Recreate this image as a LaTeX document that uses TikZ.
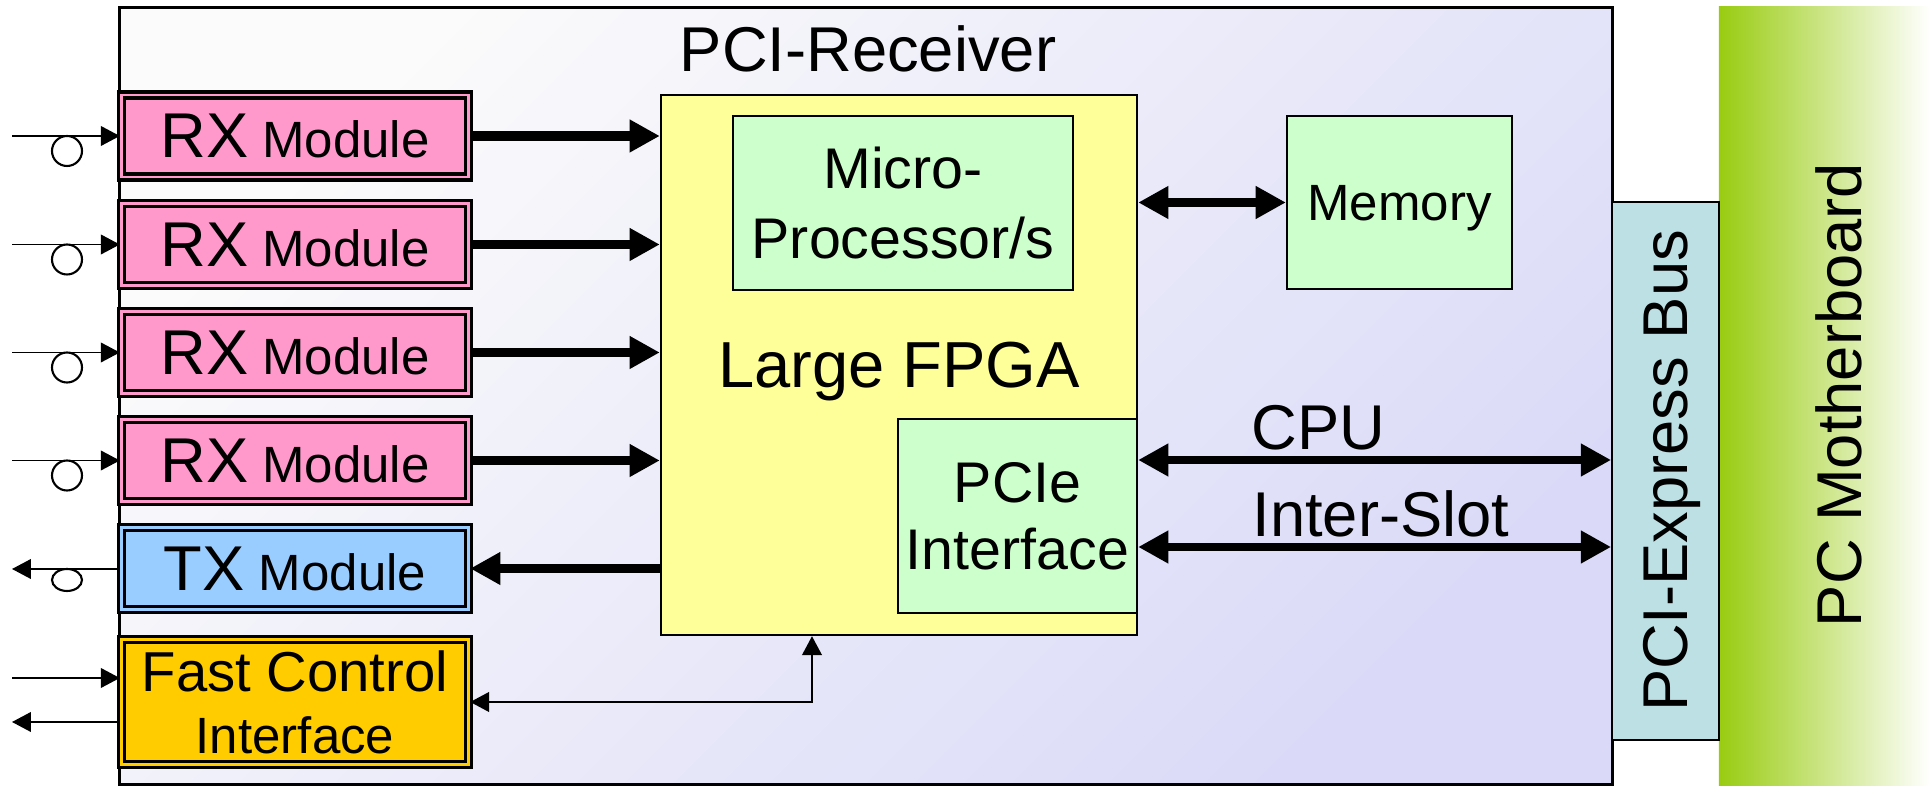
\documentclass[tikz,border=0pt]{standalone}
\usepackage{fontspec}
\setmainfont{Liberation Sans}
\usetikzlibrary{arrows.meta}

\definecolor{rxpink}{HTML}{FF99CC}
\definecolor{txblue}{HTML}{99CCFF}
\definecolor{fcigold}{HTML}{FFCC00}
\definecolor{fpgayellow}{HTML}{FFFF99}
\definecolor{blockgreen}{HTML}{CCFFCC}
\definecolor{busteal}{HTML}{BCE0E4}
\definecolor{rcvtop}{HTML}{FBFBFB}
\definecolor{rcvbottom}{HTML}{DADAF8}
\definecolor{mbgreen}{HTML}{99CC11}

\newcommand{\lbltxt}{\fontsize{18}{21}\selectfont}
\newcommand{\boxtxt}{\fontsize{14.5}{17.6}\selectfont}

\tikzset{
  receiver/.style={draw, line width=0.9pt, top color=rcvtop, bottom color=rcvbottom,
    shading angle=45, minimum width=14.915cm, minimum height=7.76cm, inner sep=0pt},
  mboard/.style={left color=mbgreen, right color=white, minimum width=2.11cm,
    minimum height=7.8cm, inner sep=0pt},
  bus/.style={draw, line width=0.5pt, fill=busteal, rotate=90, font=\lbltxt,
    minimum width=5.375cm, minimum height=1.07cm, inner sep=0pt, text depth=0pt},
  module/.style={draw, line width=0.9pt, double distance=0.8pt, inner sep=0pt,
    minimum width=3.47cm, minimum height=0.82cm, font=\boxtxt},
  rxmod/.style={module, fill=rxpink, double=rxpink},
  txmod/.style={module, fill=txblue, double=txblue},
  fcimod/.style={module, fill=fcigold, double=fcigold, minimum height=1.25cm, align=center},
  fpga/.style={draw, line width=0.6pt, fill=fpgayellow, minimum width=4.76cm,
    minimum height=5.4cm, inner sep=0pt, text depth=0pt, font=\fontsize{18.5}{21}\selectfont},
  block/.style={draw, line width=0.6pt, fill=blockgreen, inner sep=0pt, align=center},
  datalink/.style={line width=2.8pt, >={Triangle[length=8.6pt,width=8.8pt]}, ->},
  hostlink/.style={line width=2.4pt, >={Triangle[length=8.6pt,width=8.8pt]}, <->},
  wire/.style={line width=0.5pt, >={Triangle[length=5.4pt,width=5.6pt]}, ->},
  ctrllink/.style={line width=0.6pt, >={Triangle[length=5.4pt,width=5.6pt]}, <->},
}

\begin{document}
\begin{tikzpicture}[x=0.01cm, y=-0.01cm]
  \path[use as bounding box, fill=white] (0,0) rectangle (1930,786);
  \node[receiver] (rcv) at (866,396) {};
  \node[font=\lbltxt, anchor=base] (rcvtitle) at (868,72) {PCI-Receiver};
  \node[mboard] (mb) at (1824.5,397) {};
  \node[font=\lbltxt, rotate=90] (mbtitle) at (1839,395) {PC Motherboard};
  \node[bus] (bus) at (1665.5,471) {PCI-Express Bus};

  \node[rxmod] (rx1) at (295,136) {{\lbltxt RX} Module};
  \node[rxmod] (rx2) at (295,244.5) {{\lbltxt RX} Module};
  \node[rxmod] (rx3) at (295,352.5) {{\lbltxt RX} Module};
  \node[rxmod] (rx4) at (295,460.5) {{\lbltxt RX} Module};
  \node[txmod] (tx) at (295,568.5) {{\lbltxt TX} Module};
  \node[fcimod] (fci) at (295,702) {{\fontsize{16}{17.6}\selectfont Fast Control}\\Interface};

  \node[fpga] (fpga) at (899,365) {Large FPGA};
  \node[block, minimum width=3.4cm, minimum height=1.74cm,
    font=\fontsize{16.3}{20}\selectfont] (micro) at (903,203) {Micro-\\Processor/s};
  \node[block, minimum width=2.25cm, minimum height=1.73cm, text depth=0pt,
    font=\boxtxt] (mem) at (1399.5,202.5) {Memory};
  \node[block, minimum width=2.39cm, minimum height=1.94cm,
    font=\fontsize{16.3}{19}\selectfont] (pcie) at (1017.5,516) {PCIe\\Interface};

  \node[font=\lbltxt, anchor=base west] (cpulabel) at (1239,450) {CPU};
  \node[font=\lbltxt, anchor=base west] (slotlabel) at (1240,537) {Inter-Slot};

  \coordinate (in1) at (12,136);
  \coordinate (in2) at (12,244.5);
  \coordinate (in3) at (12,352.5);
  \coordinate (in4) at (12,460.5);
  \coordinate (out5) at (12,569);
  \coordinate (fciin) at (12,678);
  \coordinate (fciout) at (12,722);
  \coordinate (cpu) at (0,460);
  \coordinate (slot) at (0,547);
  \coordinate (fcibend) at (812,700);

  \begin{scope}[datalink]
    \draw (rx1) to (rx1 -| fpga.west);
    \draw (rx2) to (rx2 -| fpga.west);
    \draw (rx3) to (rx3 -| fpga.west);
    \draw (rx4) to (rx4 -| fpga.west);
    \draw (tx -| fpga.west) to (tx);
  \end{scope}
  \begin{scope}[hostlink]
    \draw (fpga.east |- mem) to (mem);
    \draw (pcie.east |- cpu) to (bus.north |- cpu);
    \draw (pcie.east |- slot) to (bus.north |- slot);
  \end{scope}
  \begin{scope}[wire]
    \draw (in1) to (in1 -| rx1.west);
    \draw (in2) to (in2 -| rx2.west);
    \draw (in3) to (in3 -| rx3.west);
    \draw (in4) to (in4 -| rx4.west);
    \draw (out5 -| tx.west) to (out5);
    \draw (fciin) to (fciin -| fci.west);
    \draw (fciout -| fci.west) to (fciout);
  \end{scope}
  \begin{scope}[line width=0.6pt]
    \draw (in1) ++(55,15) circle[radius=15];
    \draw (in2) ++(55,15) circle[radius=15];
    \draw (in3) ++(55,15) circle[radius=15];
    \draw (in4) ++(55,15) circle[radius=15];
    \draw (out5) ++(55,11) circle[x radius=15, y radius=11];
  \end{scope}
  \draw[ctrllink] (fci.east) -| (fpga.south -| fcibend);
\end{tikzpicture}
\end{document}
